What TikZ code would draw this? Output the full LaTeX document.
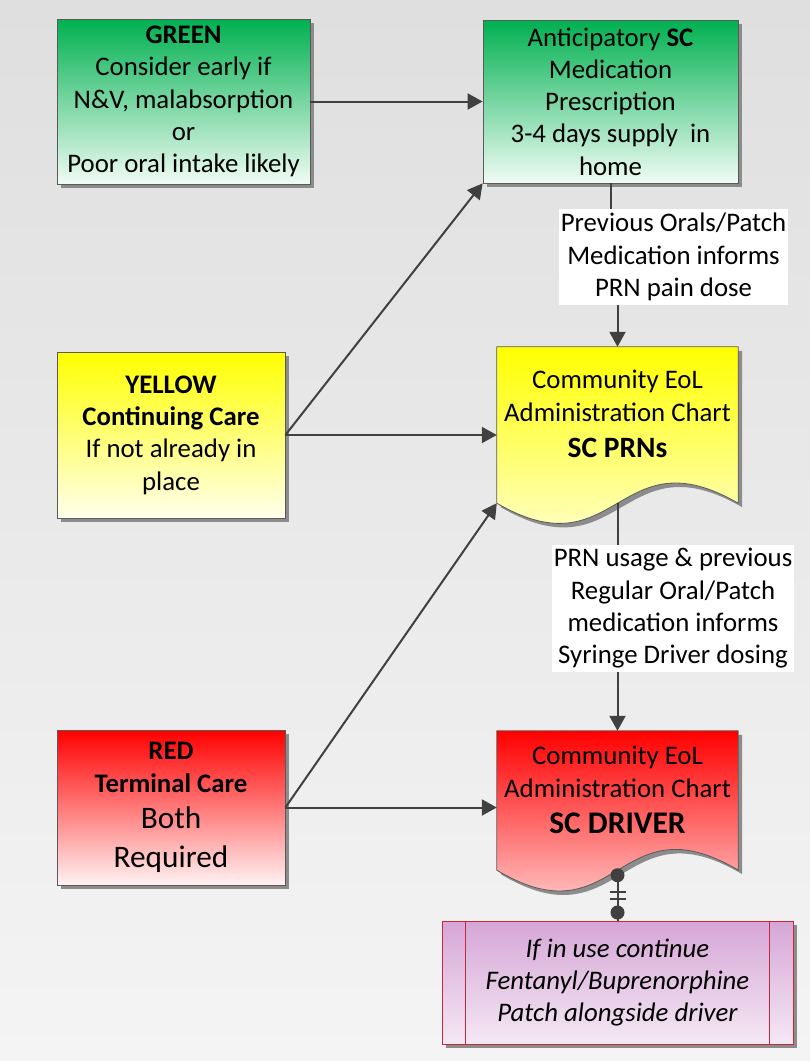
\documentclass[tikz,border=0pt]{standalone}
\usepackage{fontspec}
\setmainfont{Carlito}
\usetikzlibrary{arrows.meta,positioning,shadows}

\definecolor{bgtop}{HTML}{DFDFDF}
\definecolor{bgbot}{HTML}{F4F4F4}
\definecolor{linegray}{HTML}{404040}
\definecolor{boxedge}{HTML}{5A5A5A}
\definecolor{greentop}{HTML}{00B050}
\definecolor{greenbot}{HTML}{F0FCF4}
\definecolor{yellowbot}{HTML}{FFFFEC}
\definecolor{redbot}{HTML}{FFF2F2}
\definecolor{purpletop}{HTML}{D6A6D6}
\definecolor{purplebot}{HTML}{F4E8F4}
\definecolor{purpleedge}{HTML}{C8283C}

\begin{document}
\begin{tikzpicture}[x=1pt,y=-1pt,
    every node/.style={font=\fontsize{26.8}{32.3}\selectfont},
    shadowed/.style={general shadow={fill=black!45,shadow xshift=4pt,shadow yshift=-4pt}},
    box/.style={draw=boxedge,line width=0.8pt,align=center,inner sep=0pt,shadowed},
    docedge/.style={draw=boxedge,line width=0.8pt,shadowed},
    conn/.style={draw=linegray,line width=2pt,-{Triangle[length=15pt,width=16pt]}},
    lbl/.style={fill=white,align=center,inner xsep=2pt,inner ysep=4pt}]

    % background
    \shade[top color=bgtop,bottom color=bgbot] (0,0) rectangle (810,1061);
    \useasboundingbox (0,0) rectangle (810,1061);

    % left column
    \node[box,top color=greentop,bottom color=greenbot,minimum width=253,minimum height=165] (green) at (183.5,101.5)
        {\textbf{GREEN}\\Consider early if\\N\&V, malabsorption\\or\\Poor oral intake likely};
    \node[box,top color=yellow,bottom color=yellowbot,minimum width=228,minimum height=166] (yellow) at (171,435)
        {\textbf{YELLOW}\\\textbf{Continuing Care}\\If not already in\\place};
    \node[box,top color=red,bottom color=redbot,minimum width=228,minimum height=155] (red) at (171,807.5)
        {\textbf{RED}\\\textbf{Terminal Care}\\[4pt]\fontsize{31.3}{38}\selectfont Both\\[7pt]\fontsize{31.3}{38}\selectfont Required};

    % right column
    \node[box,top color=greentop,bottom color=greenbot,minimum width=255,minimum height=163] (antic) at (610.5,101.5)
        {Anticipatory \textbf{SC}\\Medication\\Prescription\\3-4 days supply\ \ in\\home};

    \node[minimum width=241,minimum height=156,inner sep=0pt] (prn) at (617.5,425) {};
    \path[docedge,path picture={\shade[top color=yellow,bottom color=yellowbot] (prn.north west) rectangle ([yshift=-22pt]prn.south east);}]
        (prn.north west) -- (prn.north east) -- (prn.south east)
        .. controls ([yshift=70pt]prn.south) and ([yshift=-70pt]prn.south) .. (prn.south west) -- cycle;
    \node[align=center,below=20pt of prn.north] (prntext)
        {Community EoL\\Administration Chart\\[4pt]{\fontsize{29.5}{36}\selectfont\textbf{SC PRNs}}};

    \node[minimum width=241,minimum height=139,inner sep=0pt] (drv) at (617.5,800.5) {};
    \path[docedge,path picture={\shade[top color=red,bottom color=redbot] (drv.north west) rectangle ([yshift=-24pt]drv.south east);}]
        (drv.north west) -- (drv.north east) -- (drv.south east)
        .. controls ([yshift=72pt]drv.south) and ([yshift=-72pt]drv.south) .. (drv.south west) -- cycle;
    \node[align=center,below=12pt of drv.north] (drvtext)
        {Community EoL\\Administration Chart\\[4pt]{\fontsize{31.5}{38}\selectfont\textbf{SC DRIVER}}};

    \node[draw=purpleedge,line width=1pt,top color=purpletop,bottom color=purplebot,shadowed,
        minimum width=351,minimum height=123,align=center,font=\fontsize{26.8}{32.3}\selectfont\itshape] (patch) at (617.5,982.5)
        {If in use continue\\Fentanyl/Buprenorphine\\Patch alongside driver};
    \draw[purpleedge,line width=1pt] ([xshift=24pt]patch.north west) -- ([xshift=24pt]patch.south west);
    \draw[purpleedge,line width=1pt] ([xshift=-24pt]patch.north east) -- ([xshift=-24pt]patch.south east);

    % connectors
    \draw[conn] (green.east) -- (antic.west);
    \draw[conn] (yellow.east) -- (antic.south west);
    \draw[conn] (yellow.east) -- (yellow.east -| prn.west);
    \draw[conn] (red.east) -- (prn.south west);
    \draw[conn] (red.east) -- (red.east -| drv.west);
    \draw[conn] (antic.south) -- ++(0,74) -| (prn.north);
    \draw[conn] (prn.south) -- (drv.north);

    % one-and-only-one link to the patch box
    \draw[linegray,line width=2pt] (drv.south) -- (patch.north);
    \fill[linegray] ([yshift=-5pt]drv.south) circle (7pt);
    \fill[linegray] ([yshift=8pt]patch.north) circle (7pt);
    \draw[linegray,line width=1.5pt] ([xshift=-8pt,yshift=-22pt]drv.south) -- ++(16,0);
    \draw[linegray,line width=1.5pt] ([xshift=-8pt,yshift=-29pt]drv.south) -- ++(16,0);

    % connector labels
    \node[lbl] (infoprn) at (673.5,257) {Previous Orals/Patch\\Medication informs\\PRN pain dose};
    \node[lbl] (infodrv) at (673,608.5) {PRN usage \& previous\\Regular Oral/Patch\\medication informs\\Syringe Driver dosing};
\end{tikzpicture}
\end{document}
